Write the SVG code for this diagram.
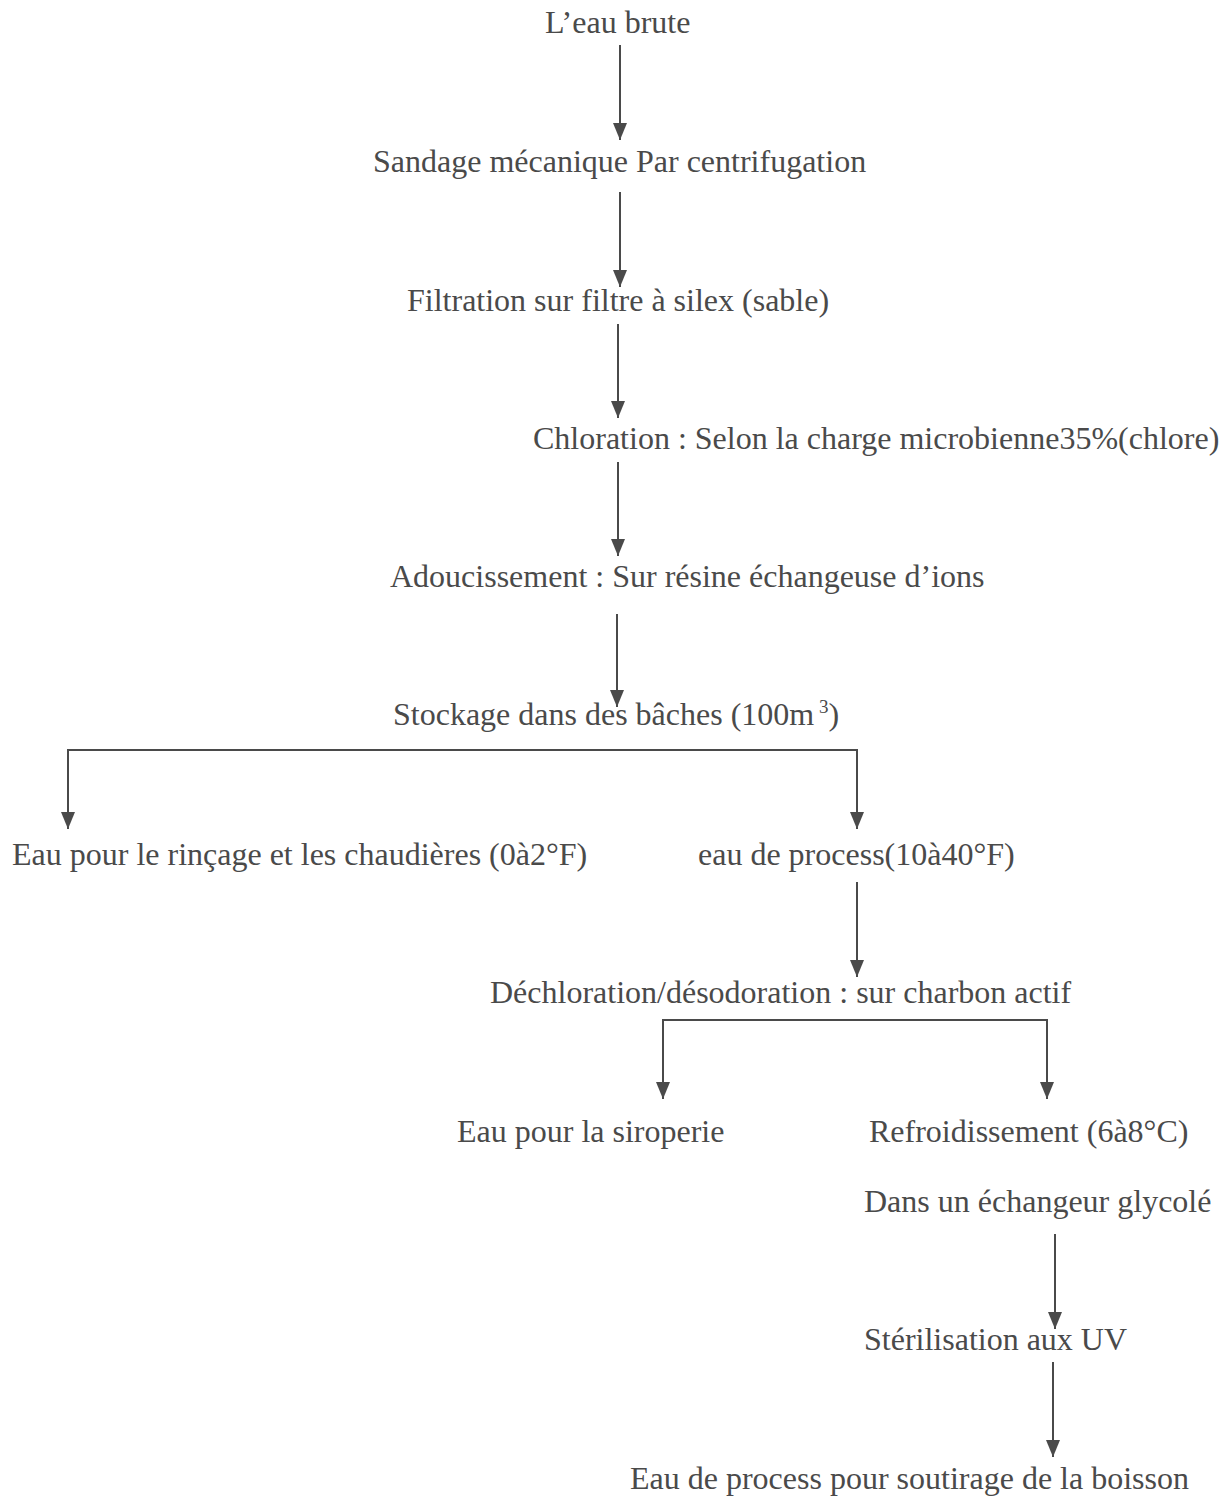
<svg xmlns="http://www.w3.org/2000/svg" width="1228" height="1498" viewBox="0 0 1228 1498">
<style>
text{font-family:"Liberation Serif","Times New Roman",serif;font-size:32px;fill:#4a4a4a}
.c{stroke:#4a4a4a;stroke-width:2;fill:none}
</style>
<defs>
<marker id="ah" markerUnits="userSpaceOnUse" markerWidth="17" markerHeight="14" refX="17" refY="7" orient="auto" viewBox="0 0 17 14">
<path d="M0,0 L17,7 L0,14 z" fill="#4a4a4a"/>
</marker>
</defs>
<rect width="1228" height="1498" fill="#fff"/>
<g id="connectors">
<line class="c" x1="620" y1="45" x2="620" y2="140" marker-end="url(#ah)"/>
<line class="c" x1="620" y1="192" x2="620" y2="287" marker-end="url(#ah)"/>
<line class="c" x1="618" y1="324" x2="618" y2="418" marker-end="url(#ah)"/>
<line class="c" x1="618" y1="462" x2="618" y2="556" marker-end="url(#ah)"/>
<line class="c" x1="617" y1="614" x2="617" y2="707" marker-end="url(#ah)"/>
<polyline class="c" points="68,829 68,750 857,750 857,829"/>
<line class="c" x1="68" y1="750" x2="68" y2="829" marker-end="url(#ah)"/>
<line class="c" x1="857" y1="750" x2="857" y2="829" marker-end="url(#ah)"/>
<line class="c" x1="857" y1="882" x2="857" y2="977" marker-end="url(#ah)"/>
<polyline class="c" points="663,1098 663,1020 1047,1020 1047,1098"/>
<line class="c" x1="663" y1="1020" x2="663" y2="1099" marker-end="url(#ah)"/>
<line class="c" x1="1047" y1="1020" x2="1047" y2="1099" marker-end="url(#ah)"/>
<line class="c" x1="1055" y1="1234" x2="1055" y2="1329" marker-end="url(#ah)"/>
<line class="c" x1="1053" y1="1362" x2="1053" y2="1457" marker-end="url(#ah)"/>
</g>
<g id="n1"><text x="545" y="33">L’eau brute</text></g>
<g id="n2"><text x="373" y="172">Sandage mécanique Par centrifugation</text></g>
<g id="n3"><text x="407" y="311">Filtration sur filtre à silex (sable)</text></g>
<g id="n4"><text x="533" y="449">Chloration : Selon la charge microbienne35%(chlore)</text></g>
<g id="n5"><text x="390" y="587">Adoucissement : Sur résine échangeuse d’ions</text></g>
<g id="n6"><text x="393" y="725">Stockage dans des bâches (100m<tspan dy="-12" font-size="19"> 3</tspan><tspan dy="12">)</tspan></text></g>
<g id="n7"><text x="12" y="865">Eau pour le rinçage et les chaudières (0à2°F)</text></g>
<g id="n8"><text x="698" y="865">eau de process(10à40°F)</text></g>
<g id="n9"><text x="490" y="1003">Déchloration/désodoration : sur charbon actif</text></g>
<g id="n10"><text x="457" y="1142">Eau pour la siroperie</text></g>
<g id="n11"><text x="869" y="1142">Refroidissement (6à8°C)</text></g>
<g id="n12"><text x="864" y="1212">Dans un échangeur glycolé</text></g>
<g id="n13"><text x="864" y="1350">Stérilisation aux UV</text></g>
<g id="n14"><text x="630" y="1489">Eau de process pour soutirage de la boisson</text></g>
</svg>
